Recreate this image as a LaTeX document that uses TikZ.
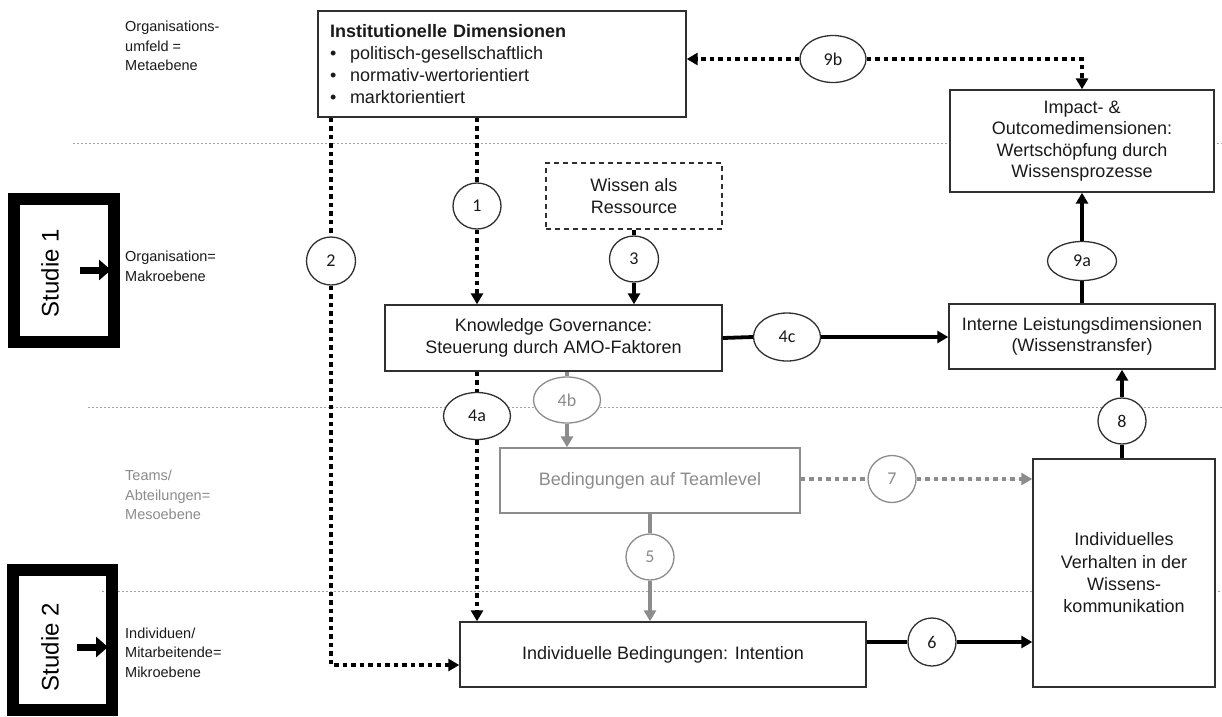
\documentclass[tikz,border=0pt]{standalone}
\usepackage{fontspec}
\setmainfont{Liberation Sans}
\newfontfamily\numfont{Carlito}
\usetikzlibrary{arrows.meta,shapes.geometric}
\definecolor{boxline}{HTML}{303030}
\definecolor{lvlgray}{HTML}{8C8C8C}
\definecolor{sepgray}{HTML}{A0A0A0}
\definecolor{txt}{HTML}{1A1A1A}

\begin{document}
\begin{tikzpicture}[x=1pt,y=-1pt,
  box/.style={draw=boxline, line width=1.4pt, fill=white, inner sep=0pt,
    align=center, text=txt, font=\fontsize{18}{21.5}\selectfont},
  greybox/.style={box, draw=lvlgray, text=lvlgray},
  badge/.style={ellipse, draw=boxline, line width=1.3pt, fill=white, inner sep=0pt,
    text=txt, font=\numfont\fontsize{18}{20}\selectfont},
  greybadge/.style={badge, draw=lvlgray, text=lvlgray},
  level/.style={anchor=west, align=left, inner sep=0pt, text=txt,
    font=\fontsize{14.5}{19.5}\selectfont},
  sepline/.style={draw=sepgray, line width=0.9pt, dash pattern=on 2pt off 2pt},
  tip/.style={-{Triangle[length=11pt,width=12pt]}},
  dotline/.style={line width=3.8pt, dash pattern=on 4.5pt off 4pt},
  thickline/.style={line width=3.8pt},
  studybox/.style={draw=black, line width=12pt, inner sep=0pt},
  studytext/.style={rotate=90, inner sep=0pt, font=\fontsize{24}{24}\selectfont},
  studyarrow/.style={line width=7pt, -{Triangle[length=12pt,width=20pt]}}
]
\useasboundingbox (0,0) rectangle (1222,716);
\fill[white] (0,0) rectangle (1222,716);

% level separators
\draw[sepline] (73,143) -- (1222,143);
\draw[sepline] (88,407) -- (1222,407);
\draw[sepline] (102,591) -- (1222,591);

% level labels
\node[level] (lmeta) at (125,46) {Organisations-\\umfeld =\\Metaebene};
\node[level] (lmakro) at (125,266.5) {Organisation=\\Makroebene};
\node[level, text=lvlgray] (lmeso) at (125,495) {Teams/\\Abteilungen=\\Mesoebene};
\node[level] (lmikro) at (125,652.5) {Individuen/\\Mitarbeitende=\\Mikroebene};

% study markers
\node[studybox, minimum width=100pt, minimum height=143pt] (s1) at (64,270.5) {};
\node[studytext] (s1t) at (50,273) {Studie 1};
\coordinate (a1s) at (80,270);
\coordinate (a1e) at (111,270);
\draw[studyarrow] (a1s) -- (a1e);

\node[studybox, minimum width=99pt, minimum height=140pt] (s2) at (62.5,640) {};
\node[studytext] (s2t) at (50,647) {Studie 2};
\coordinate (a2s) at (77,647);
\coordinate (a2e) at (108,647);
\draw[studyarrow] (a2s) -- (a2e);

% boxes
\node[box, minimum width=368pt, minimum height=106pt, text width=344pt, align=left,
  font=\fontsize{18}{22}\selectfont] (inst) at (502,64)
  {\textbf{Institutionelle Dimensionen}\\
   \makebox[20pt][l]{•}politisch-gesellschaftlich\\
   \makebox[20pt][l]{•}normativ-wertorientiert\\
   \makebox[20pt][l]{•}marktorientiert};
\node[box, minimum width=264pt, minimum height=102pt] (impact) at (1082,141)
  {Impact- \&\\Outcomedimensionen:\\Wertschöpfung durch\\Wissensprozesse};
\node[box, dashed, dash pattern=on 5pt off 4pt, minimum width=176pt, minimum height=66pt] (wissen) at (634,196)
  {Wissen als\\Ressource};
\node[box, minimum width=337pt, minimum height=66pt] (kg) at (553.5,338)
  {Knowledge Governance:\\Steuerung durch AMO-Faktoren};
\node[box, minimum width=266pt, minimum height=65pt] (interne) at (1082,336.5)
  {Interne Leistungsdimensionen\\(Wissenstransfer)};
\node[greybox, minimum width=300pt, minimum height=65pt] (team) at (650,480.5)
  {Bedingungen auf Teamlevel};
\node[box, minimum width=406pt, minimum height=65pt] (indbed) at (663,654.5)
  {Individuelle Bedingungen: Intention};
\node[box, minimum width=182pt, minimum height=228pt, font=\fontsize{18}{22.3}\selectfont] (indverh) at (1124,573)
  {Individuelles\\Verhalten in der\\Wissens-\\kommunikation};

% numbered badges
\node[badge, minimum width=48pt, minimum height=46pt] (c1) at (477,206) {1};
\node[badge, minimum width=49pt, minimum height=48pt] (c2) at (331,261) {2};
\node[badge, minimum width=49pt, minimum height=46pt] (c3) at (634,259) {3};
\node[badge, minimum width=67pt, minimum height=47pt] (e4a) at (477,416) {4a};
\node[greybadge, minimum width=67pt, minimum height=46pt] (e4b) at (567,400) {4b};
\node[badge, minimum width=67pt, minimum height=48pt] (e4c) at (787,337) {4c};
\node[greybadge, minimum width=48pt, minimum height=46pt] (c5) at (650,557) {5};
\node[badge, minimum width=48pt, minimum height=48pt] (c6) at (932,642) {6};
\node[greybadge, minimum width=48pt, minimum height=47pt] (c7) at (892,479) {7};
\node[badge, minimum width=48pt, minimum height=46pt] (c8) at (1122,421) {8};
\node[badge, minimum width=69pt, minimum height=39pt] (e9a) at (1082,261) {9a};
\node[badge, minimum width=66pt, minimum height=47pt] (e9b) at (833,59) {9b};

% connectors
% 1
\draw[dotline] (c1 |- inst.south) -- (c1.north);
\draw[dotline, tip] (c1.south) -- (c1 |- kg.north);
% 2
\coordinate (k2) at (331,665);
\draw[dotline] (c2 |- inst.south) -- (c2.north);
\draw[dotline, tip] (c2.south) -- (k2) -- (k2 -| indbed.west);
% 3
\draw[thickline] (wissen.south) -- (c3.north);
\draw[thickline, tip] (c3.south) -- (c3 |- kg.north);
% 4a
\draw[dotline] (e4a |- kg.south) -- (e4a.north);
\draw[dotline, tip] (e4a.south) -- (e4a |- indbed.north);
% 4b
\draw[thickline, draw=lvlgray] (e4b |- kg.south) -- (e4b.north);
\draw[thickline, draw=lvlgray, fill=lvlgray, tip] (e4b.south) -- (e4b |- team.north);
% 4c
\draw[thickline] (kg.east) -- (e4c.west);
\draw[thickline, tip] (e4c.east) -- (e4c -| interne.west);
% 5
\draw[thickline, draw=lvlgray] (c5 |- team.south) -- (c5.north);
\draw[thickline, draw=lvlgray, fill=lvlgray, tip] (c5.south) -- (c5 |- indbed.north);
% 6
\draw[thickline] (c6 -| indbed.east) -- (c6.west);
\draw[thickline, tip] (c6.east) -- (c6 -| indverh.west);
% 7
\draw[dotline, draw=lvlgray] (c7 -| team.east) -- (c7.west);
\draw[dotline, draw=lvlgray, fill=lvlgray, tip] (c7.east) -- (c7 -| indverh.west);
% 8
\draw[thickline] (c8 |- indverh.north) -- (c8.south);
\draw[thickline, tip] (c8.north) -- (c8 |- interne.south);
% 9a
\draw[thickline] (interne.north) -- (e9a.south);
\draw[thickline, tip] (e9a.north) -- (impact.south);
% 9b
\coordinate (k9) at (1082,59);
\draw[dotline, tip] (e9b.west) -- (e9b -| inst.east);
\draw[dotline, tip] (e9b.east) -- (k9) -- (impact.north);
\end{tikzpicture}
\end{document}
